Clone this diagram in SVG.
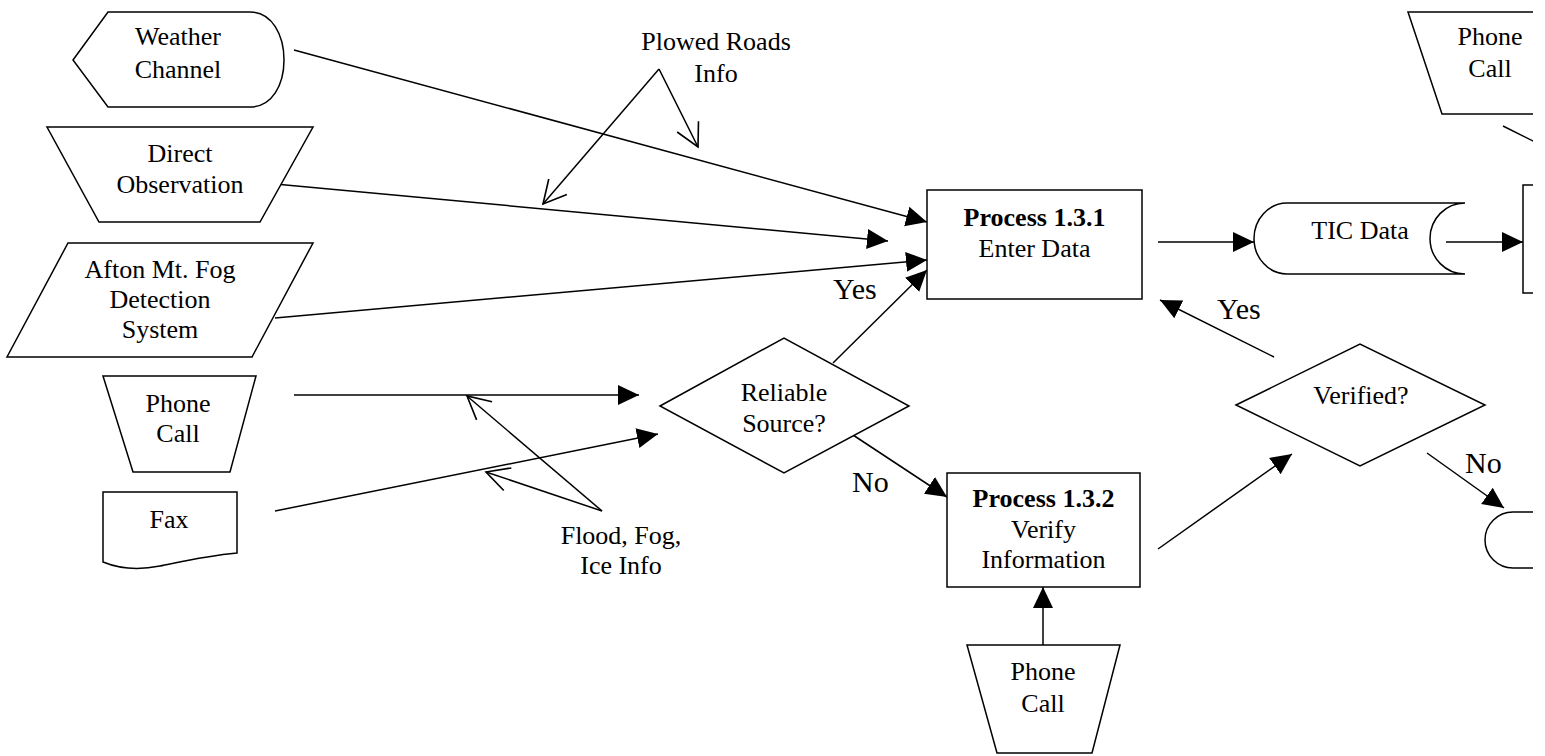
<svg xmlns="http://www.w3.org/2000/svg" width="1545" height="756" viewBox="0 0 1545 756">
<style>
.s{fill:#fff;stroke:#000;stroke-width:1.5}
.c{fill:none;stroke:#000;stroke-width:1.5}
text{font-family:"Liberation Serif","Times New Roman",serif;font-size:26px;fill:#000}
.m{text-anchor:middle}
.b{font-weight:bold}
.l{font-size:30px}
</style>
<defs>
<marker id="ah" markerUnits="userSpaceOnUse" markerWidth="22" markerHeight="22" refX="21" refY="10" orient="auto" viewBox="0 0 22 20">
<path d="M0,0 L21,10 L0,20 Z" fill="#000"/>
</marker>
<marker id="oh" markerUnits="userSpaceOnUse" markerWidth="26" markerHeight="26" refX="22" refY="12" orient="auto" viewBox="0 0 24 24">
<path d="M1,1 L22,12 L1,23" fill="none" stroke="#000" stroke-width="1.5"/>
</marker>
<clipPath id="clip"><rect x="0" y="0" width="1533" height="756"/></clipPath>
</defs>
<rect width="1545" height="756" fill="#fff"/>
<g clip-path="url(#clip)">
<g id="connectors">
<line class="c" x1="294" y1="50" x2="927" y2="222" marker-end="url(#ah)"/>
<line class="c" x1="275" y1="184" x2="888" y2="241" marker-end="url(#ah)"/>
<line class="c" x1="275" y1="318" x2="927" y2="260" marker-end="url(#ah)"/>
<line class="c" x1="833" y1="363" x2="927" y2="270" marker-end="url(#ah)"/>
<line class="c" x1="294" y1="395" x2="639" y2="395" marker-end="url(#ah)"/>
<line class="c" x1="275" y1="511" x2="658" y2="434" marker-end="url(#ah)"/>
<line class="c" x1="853" y1="435" x2="947" y2="497" marker-end="url(#ah)"/>
<line class="c" x1="1158" y1="242" x2="1254" y2="242" marker-end="url(#ah)"/>
<line class="c" x1="1446" y1="242" x2="1523" y2="242" marker-end="url(#ah)"/>
<line class="c" x1="1274" y1="357" x2="1160" y2="300" marker-end="url(#ah)"/>
<line class="c" x1="1158" y1="549" x2="1292" y2="454" marker-end="url(#ah)"/>
<line class="c" x1="1427" y1="453" x2="1504" y2="508" marker-end="url(#ah)"/>
<line class="c" x1="1043" y1="645" x2="1043" y2="587" marker-end="url(#ah)"/>
<line class="c" x1="1503" y1="126" x2="1545" y2="147"/>
<line class="c" x1="659" y1="69" x2="543" y2="204" marker-end="url(#oh)"/>
<line class="c" x1="659" y1="69" x2="698" y2="147" marker-end="url(#oh)"/>
<line class="c" x1="602" y1="511" x2="467" y2="396" marker-end="url(#oh)"/>
<line class="c" x1="602" y1="511" x2="486" y2="472" marker-end="url(#oh)"/>
</g>
<g id="weather-channel">
<path class="s" d="M73,60 L108,12 L250,12 C272,12 284,35 284,60 C284,85 272,107 250,107 L108,107 Z"/>
<text class="m" x="178" y="45">Weather</text>
<text class="m" x="178" y="78">Channel</text>
</g>
<g id="direct-observation">
<path class="s" d="M47,127 L313,127 L260,222 L99,222 Z"/>
<text class="m" x="180" y="162">Direct</text>
<text class="m" x="180" y="193">Observation</text>
</g>
<g id="afton">
<path class="s" d="M68,243 L313,243 L252,357 L7,357 Z"/>
<text class="m" x="160" y="278">Afton Mt. Fog</text>
<text class="m" x="160" y="308">Detection</text>
<text class="m" x="160" y="338">System</text>
</g>
<g id="phone-call-left">
<path class="s" d="M103,376 L256,376 L230,472 L133,472 Z"/>
<text class="m" x="178" y="412">Phone</text>
<text class="m" x="178" y="442">Call</text>
</g>
<g id="fax">
<path class="s" d="M103,492 H237 V553 C205,556 180,562 160,566 C140,570 120,569 103,562 Z"/>
<text class="m" x="169" y="528">Fax</text>
</g>
<g id="plowed-roads-label">
<text class="m" x="716" y="50">Plowed Roads</text>
<text class="m" x="716" y="82">Info</text>
</g>
<g id="flood-label">
<text class="m" x="621" y="544">Flood, Fog,</text>
<text class="m" x="621" y="574">Ice Info</text>
</g>
<g id="reliable-source">
<path class="s" d="M660,406 L784,338 L909,406 L784,473 Z"/>
<text class="m" x="784" y="401">Reliable</text>
<text class="m" x="784" y="432">Source?</text>
</g>
<g id="labels">
<text class="l" x="833" y="299">Yes</text>
<text class="l" x="852" y="492">No</text>
<text class="l" x="1217" y="319">Yes</text>
<text class="l" x="1465" y="473">No</text>
</g>
<g id="process-131">
<rect class="s" x="927" y="190" width="215" height="109"/>
<text class="m b" x="1034.5" y="226">Process 1.3.1</text>
<text class="m" x="1034.5" y="257">Enter Data</text>
</g>
<g id="process-132">
<rect class="s" x="947" y="473" width="193" height="114"/>
<text class="m b" x="1043.5" y="507">Process 1.3.2</text>
<text class="m" x="1043.5" y="538">Verify</text>
<text class="m" x="1043.5" y="568">Information</text>
</g>
<g id="phone-call-bottom">
<path class="s" d="M967,645 L1120,645 L1092,753 L997,753 Z"/>
<text class="m" x="1043" y="680">Phone</text>
<text class="m" x="1043" y="712">Call</text>
</g>
<g id="tic-data">
<path class="s" d="M1287,203 L1465,203 A35,35.5 0 0 0 1465,274 L1287,274 A33,35.5 0 0 1 1287,203 Z"/>
<text class="m" x="1360" y="239">TIC Data</text>
</g>
<g id="verified">
<path class="s" d="M1236,405 L1360,344 L1485,405 L1360,466 Z"/>
<text class="m" x="1361" y="404">Verified?</text>
</g>
<g id="phone-call-top-right">
<path class="s" d="M1408,12 L1572,12 L1538,114 L1442,114 Z"/>
<text class="m" x="1490" y="45">Phone</text>
<text class="m" x="1490" y="77">Call</text>
</g>
<g id="right-box">
<rect class="s" x="1523" y="185" width="60" height="108"/>
</g>
<g id="terminal">
<path class="s" d="M1560,512 L1513,512 A28,28 0 0 0 1513,568 L1560,568"/>
</g>
</g>
</svg>
